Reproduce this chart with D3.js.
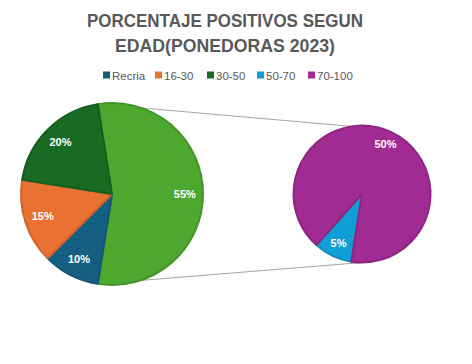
<!DOCTYPE html>
<html><head><meta charset="utf-8">
<script src="https://cdn.jsdelivr.net/npm/d3@7"></script>
<style>body{margin:0;background:#fff}svg{display:block}</style>
</head><body>
<script>
const categories = ["Recria","16-30","30-50","50-70","70-100"];
const values = [10,15,20,5,50];
const labels = ["10%","15%","20%","5%","50%"];
const colors = ["#156082","#E97132","#196B24","#0F9ED5","#A02B93"];
const otherColor = "#4EA72E";
const splitIndex = 3; // last two go to the second pie
const titleLines = ["PORCENTAJE POSITIVOS SEGUN","EDAD(PONEDORAS 2023)"];

const W = 472, H = 364;
const svg = d3.select("body").append("svg").attr("width",W).attr("height",H);

// Title
const title = svg.append("g").attr("font-family","Liberation Sans, Arial, sans-serif")
  .attr("font-weight","bold").attr("fill","#595959").attr("font-size",19);
title.append("text").attr("x",225).attr("y",27).attr("text-anchor","middle")
  .attr("textLength",276).attr("lengthAdjust","spacingAndGlyphs").text(titleLines[0]);
title.append("text").attr("x",225).attr("y",52).attr("text-anchor","middle")
  .attr("textLength",220).attr("lengthAdjust","spacingAndGlyphs").text(titleLines[1]);

// Legend
const legX = [103,155,207,257,308];
const leg = svg.append("g").attr("font-family","Liberation Sans, Arial, sans-serif").attr("font-size",11.5).attr("fill","#595959");
categories.forEach((c,i)=>{
  leg.append("rect").attr("x",legX[i]).attr("y",71.5).attr("width",7).attr("height",7).attr("fill",colors[i]);
  leg.append("text").attr("x",legX[i]+9).attr("y",79.5).text(c);
});

const mainVals = values.slice(0,splitIndex);
const otherVals = values.slice(splitIndex);
const otherSum = d3.sum(otherVals);
const total = d3.sum(values);

const deg = Math.PI/180;
const startMain = Math.PI/2 - (otherSum/total)*Math.PI; // other centred at 3 o'clock

// Main pie
const c1 = {x:112, y:194, r:91};
const mainData = [{v:otherSum, color:otherColor, label:otherSum+"%"}]
  .concat(mainVals.map((v,i)=>({v, color:colors[i], label:labels[i]})));
const pie1 = d3.pie().sort(null).value(d=>d.v).startAngle(startMain).endAngle(startMain+2*Math.PI);
const arc1 = d3.arc().innerRadius(0).outerRadius(c1.r);
const lab1 = d3.arc().innerRadius(c1.r*0.8).outerRadius(c1.r*0.8);
const g1 = svg.append("g").attr("transform",`translate(${c1.x},${c1.y})`);
const a1 = pie1(mainData);
g1.selectAll("path").data(a1).join("path").attr("d",arc1)
  .attr("fill",d=>d.data.color).attr("stroke",d=>d3.color(d.data.color).darker(0.35)).attr("stroke-width",2).attr("stroke-linejoin","round");

// Second pie
const c2 = {x:362, y:194, r:68.5};
const start2 = Math.PI - startMain;
const secData = otherVals.map((v,i)=>({v, color:colors[splitIndex+i], label:labels[splitIndex+i]}));
const pie2 = d3.pie().sort(null).value(d=>d.v).startAngle(start2).endAngle(start2+2*Math.PI);
const arc2 = d3.arc().innerRadius(0).outerRadius(c2.r);
const lab2 = d3.arc().innerRadius(c2.r*0.8).outerRadius(c2.r*0.8);
const g2 = svg.append("g").attr("transform",`translate(${c2.x},${c2.y})`);
const a2 = pie2(secData);
g2.selectAll("path").data(a2).join("path").attr("d",arc2)
  .attr("fill",d=>d.data.color).attr("stroke",d=>d3.color(d.data.color).darker(0.35)).attr("stroke-width",2).attr("stroke-linejoin","round");

// Connector lines
const other = a1[0];
const pt = (c,a)=>[c.x+c.r*Math.sin(a), c.y-c.r*Math.cos(a)];
const lines = [[pt(c1,other.startAngle), pt(c2,other.startAngle)],[pt(c1,other.endAngle), pt(c2,Math.PI-other.endAngle+Math.PI)]];
// bottom: mirror angle on second pie lower side
lines[1][1] = pt(c2, Math.PI + (Math.PI - other.endAngle) );
svg.insert("g","g").selectAll("line").data(lines).join("line")
  .attr("x1",d=>d[0][0]).attr("y1",d=>d[0][1]).attr("x2",d=>d[1][0]).attr("y2",d=>d[1][1])
  .attr("stroke","#a6a6a6").attr("stroke-width",1);

// Labels
const lf = {family:"Liberation Sans, Arial, sans-serif", size:11};
g1.selectAll("text").data(a1).join("text")
  .attr("transform",d=>`translate(${lab1.centroid(d)})`).attr("text-anchor","middle").attr("dy","0.35em")
  .attr("font-family",lf.family).attr("font-size",lf.size).attr("font-weight","bold").attr("fill","#fff").text(d=>d.data.label);
g2.selectAll("text").data(a2).join("text")
  .attr("transform",d=>`translate(${lab2.centroid(d)})`).attr("text-anchor","middle").attr("dy","0.35em")
  .attr("font-family",lf.family).attr("font-size",lf.size).attr("font-weight","bold").attr("fill","#fff").text(d=>d.data.label);
</script>
</body></html>
